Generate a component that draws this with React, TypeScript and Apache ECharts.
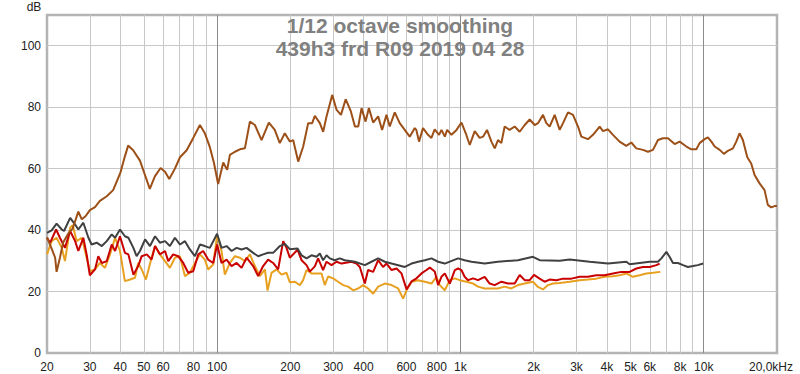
import React, { useEffect, useRef } from "react";
import * as echarts from "echarts";

const FONT = 'Arial, "Liberation Sans", sans-serif';

const titleLines = ["1/12 octave smoothing", "439h3 frd R09 2019 04 28"];
const yUnit = "dB";
const xLabelValues = [20, 30, 40, 50, 60, 80, 100, 200, 300, 400, 600, 800, 1000, 2000, 3000, 4000, 5000, 6000, 8000, 10000, 20000];
const minorGridFreqs = [30, 40, 50, 60, 70, 80, 90, 200, 300, 400, 500, 600, 700, 800, 900, 2000, 3000, 4000, 5000, 6000, 7000, 8000, 9000];

const brownFreq = [20, 20.9, 21.6, 21.9, 22.6, 23.3, 24.5, 25.5, 26.9, 27.8, 28.8, 30, 31.5, 33, 35.2, 37.4, 40.1, 41.8, 43.1, 45.2, 48.2, 50.5, 52.9, 55.5, 58.6, 61.1, 63.6, 67.1, 70.4, 75, 79.8, 85, 89.1, 93.4, 97, 101, 106, 110, 112.9, 118.4, 124.1, 130.1, 136.4, 143, 152.3, 163.2, 172.6, 181, 189.8, 199, 205.4, 215.5, 225.9, 236.8, 245.9, 252.2, 264.4, 272.9, 281.7, 297.2, 309.9, 323, 337.6, 354.7, 368.5, 380.3, 392.4, 407.6, 420.6, 437.8, 459.1, 476.6, 496.8, 512.3, 537.2, 563.2, 590.5, 619.1, 649.1, 659, 676, 702, 736, 760, 784, 817, 836, 863, 882, 919, 964, 1010, 1052, 1092, 1145, 1200, 1239, 1286, 1341, 1384, 1427, 1473, 1520, 1593, 1671, 1752, 1837, 1926, 2019, 2083, 2185, 2255, 2327, 2440, 2558, 2640, 2768, 2902, 3043, 3140, 3344, 3506, 3735, 3855, 4041, 4237, 4510, 4805, 5038, 5282, 5627, 5900, 6186, 6485, 6800, 7129, 7595, 7963, 8483, 8894, 9325, 9616, 10083, 10400, 10750, 11090, 11630, 12100, 12570, 13180, 13600, 14030, 14480, 15100, 15670, 16180, 16960, 17780, 18340, 18930, 19540, 20000];
const brownDb = [37.6, 34, 31, 26.4, 31, 36, 39, 40.5, 46, 43.5, 44.5, 46.5, 47.5, 49.5, 51, 53, 58.8, 64, 67.5, 66, 62.6, 58, 53.4, 57.5, 60.2, 59, 56.6, 60, 63.7, 66, 70, 74.2, 71.5, 67, 62, 55, 62, 59.6, 64.5, 65.5, 66.3, 66.6, 75.3, 74.2, 69.3, 75, 72.6, 68.3, 71.5, 68.8, 69.3, 62.3, 67.2, 74.8, 74.8, 77.2, 74.8, 72, 77, 84, 79.1, 77.5, 82.6, 78.6, 73.7, 73.7, 79.7, 75.3, 79.7, 75, 77, 72.6, 77.5, 73.7, 78.3, 74.8, 72.6, 70.4, 73.2, 72.6, 68.8, 73.2, 71, 70, 72.8, 71, 72.6, 70.4, 72.6, 71, 72.6, 75, 71.5, 67.7, 72.2, 70, 70.4, 72.6, 68.8, 66.6, 69.3, 68.3, 73.7, 72.6, 73.7, 72, 74.2, 76, 74.2, 74.8, 77.5, 74.8, 73.7, 77.5, 72.6, 74.8, 78.3, 77.5, 73.7, 70.4, 69.6, 71, 73.7, 72.2, 72.8, 71, 68.8, 67.4, 68.5, 66.6, 66.1, 65.5, 66.1, 69.3, 69.9, 69.9, 68, 68.8, 67.2, 66.3, 66.3, 68.3, 69.6, 70.2, 68.8, 67.2, 66.1, 64.8, 65.8, 66.6, 68.8, 71.5, 69.3, 63.7, 61.7, 57.9, 55.2, 53, 48.2, 47.4, 47.8, 47.8];

const grayFreq = [20, 20.9, 21.9, 23, 23.5, 24.9, 26.1, 26.9, 28.2, 29.6, 30.5, 32, 33.6, 35.2, 36.9, 38.1, 39.9, 41.8, 43.2, 45.3, 46.7, 48.2, 50.6, 53, 55.6, 58.2, 61.1, 64, 67.1, 70.4, 73.8, 77.3, 81.1, 85, 89.1, 93.4, 100, 104.3, 109.4, 114.7, 120.3, 126.1, 132.2, 140.7, 147.5, 154.6, 162.1, 170, 181.1, 189.9, 199.1, 214.1, 222.4, 233.1, 244.4, 256.2, 264.4, 272.7, 281.6, 290.6, 304.7, 319.4, 335, 368.3, 404.8, 430.9, 459.2, 489.2, 521.2, 591, 629.6, 670.2, 713.9, 760.6, 809.6, 862.6, 977.9, 1041, 1110, 1258, 1425, 1724, 1987, 2116, 2558, 2812, 3398, 4041, 4807, 4959, 5996, 6479, 6697, 7022, 7236, 7472, 7829, 8217, 8605, 9038, 9456, 9940];
const grayDb = [39.1, 39.9, 42.1, 40.2, 39.7, 44, 41.8, 40.2, 42.4, 37.5, 35.3, 35.9, 34.8, 36.4, 38.6, 37.5, 40.2, 38, 37.5, 34.2, 31.5, 33.2, 37, 34.8, 38, 35.9, 36.4, 34.8, 37.5, 35.3, 36.4, 33.7, 31.5, 35.3, 34.8, 34.2, 38.8, 34.2, 34.8, 33.2, 34.2, 33.7, 34.2, 32.6, 31.5, 32.1, 32.6, 32.6, 34.8, 35.5, 33.8, 34, 31.8, 30.8, 31.8, 31.3, 32.4, 30.2, 31.8, 30.8, 30.2, 30.8, 30.2, 29.7, 28.6, 29.7, 30.8, 29.7, 29.1, 28, 29.1, 29.7, 30.2, 30.8, 29.7, 29.1, 30.8, 30.2, 29.7, 29.1, 29.7, 30.2, 31.3, 30.2, 30, 30.4, 29.7, 29.1, 29.7, 28.9, 29.7, 29.7, 30.8, 32.9, 31.3, 29.3, 29.3, 28.6, 28, 28.3, 28.6, 29.1];

const redFreq = [20, 20.6, 21.8, 22.6, 23.7, 24.9, 26.1, 26.9, 28.2, 29.1, 30, 31.5, 32.5, 33.6, 35.2, 36.9, 38.1, 39.9, 41.8, 43.2, 45.3, 47.4, 49, 51.4, 53.8, 55.6, 58.2, 61.1, 63, 66, 69.2, 72.6, 76.1, 79.8, 83.7, 87.7, 91.9, 96.4, 100.1, 104.3, 109.4, 114.7, 120.3, 126.1, 132.2, 140.7, 147.5, 154.6, 162.1, 170, 178.2, 186.9, 192.9, 199.1, 214.1, 222.4, 233.1, 240.5, 252.2, 260.1, 272.7, 281.6, 295.3, 309.6, 324.7, 357, 374.1, 386.1, 404.8, 417.3, 438, 459.2, 481, 497.2, 521.2, 546.4, 572.5, 600.6, 629.6, 660.1, 691.7, 725.3, 748.5, 784.4, 809.6, 835.6, 862.6, 904.4, 948.2, 977.9, 1009.5, 1041, 1075, 1127, 1181, 1258, 1319, 1382, 1474, 1568, 1671, 1752, 1837, 1926, 2006, 2116, 2218, 2326, 2479, 2639, 2857, 3090, 3343, 3621, 3914, 4237, 4583, 4959, 5284, 5626, 5996, 6387, 6590];
const redDb = [37.5, 35.9, 40.2, 37.5, 34.2, 39.7, 36.4, 33.2, 37.5, 32.1, 25.3, 27.2, 31.5, 29.3, 29.9, 35.3, 33.2, 38, 32.6, 32.1, 25.5, 28.3, 31.5, 32.1, 30.4, 34.8, 32.1, 33.2, 29.9, 32.1, 31.5, 29.3, 26.1, 26.6, 32.1, 33.2, 30.4, 29.3, 35.3, 29.3, 30.4, 28.3, 29.3, 27.7, 31, 28.3, 25, 28.3, 30.4, 29.3, 27.2, 36.4, 34.2, 31, 33.6, 30.2, 28.6, 26.5, 28.2, 30.8, 27, 29.7, 28.6, 29.7, 29.1, 29.7, 29.1, 28, 22.6, 27, 26.4, 30.2, 28, 29.1, 27, 27.5, 25.9, 20.7, 23.3, 24.3, 25.9, 27, 27.8, 26.5, 22.1, 24.8, 25.9, 22.6, 27, 27.5, 27, 24.8, 23.7, 24.3, 23.7, 24.8, 22.6, 22.1, 23.2, 22.6, 22.6, 25.4, 23.7, 23.7, 25.4, 24.2, 23.2, 23.9, 23.7, 24.2, 24.2, 24.8, 24.8, 25.3, 25.3, 25.9, 26.4, 26.4, 27.5, 28, 28, 28.6, 29.1];

const orangeFreq = [20, 20.9, 21.9, 23, 23.7, 24.9, 25.5, 26.5, 27.8, 29.1, 30, 31.5, 33, 34.6, 36.3, 38.1, 39.9, 41.8, 43.9, 46, 47.4, 49, 51, 53.8, 55.6, 58.2, 61.1, 64, 67.1, 70.4, 73.8, 77.3, 81.1, 85, 89.1, 91.9, 96.4, 100.1, 104.3, 107.6, 112.9, 118.4, 124.1, 130.1, 136.4, 143, 149.9, 157.2, 161.2, 167.4, 175.6, 184, 192.9, 199.1, 208.7, 218.8, 225.8, 233.1, 244.4, 256.2, 268.6, 277.1, 285.9, 299.8, 314.3, 329.7, 345.5, 362.4, 379.8, 398.3, 417.3, 438, 459.2, 489.2, 521.2, 554.7, 581.6, 600.6, 629.6, 670.2, 713.9, 760.6, 796.9, 822.2, 862.6, 904.4, 948.2, 993.4, 1058, 1127, 1181, 1258, 1425, 1520, 1619, 1724, 1837, 1987, 2019, 2083, 2183, 2289, 2401, 2558, 2812, 3090, 3343, 3621, 3914, 4237, 4510, 4807, 5116, 5452, 5805, 6186, 6634];
const orangeDb = [32.1, 36.4, 37.5, 34.2, 29.9, 40.8, 41.6, 36.4, 37.5, 31, 26.6, 27.2, 29.3, 27.7, 32.1, 37.5, 33.2, 23.4, 23.9, 24.5, 29.3, 27.2, 23.9, 31, 34.8, 32.1, 29.9, 27.7, 31, 31.5, 25, 26.1, 29.3, 32.1, 30.4, 27.2, 28.8, 38.4, 33.2, 25.5, 29.3, 31.5, 31, 29.9, 32.1, 28.3, 25, 27.2, 20.3, 26.1, 27.2, 25.5, 26.1, 23, 23.2, 22.1, 23.7, 27, 25.9, 25.9, 25.9, 22.1, 24.9, 24.3, 23.2, 22.1, 21.6, 20.4, 21, 22.1, 21, 19.3, 21.6, 22.6, 22.1, 21, 17.7, 20.4, 23.2, 23.7, 23.2, 22.6, 24.8, 22.1, 20.4, 23.7, 24.3, 23.7, 23.2, 22.6, 21.6, 21, 21, 21.6, 21, 22.1, 22.6, 23.2, 22.6, 21.5, 20.7, 22.1, 22.6, 22.8, 23.2, 23.7, 23.9, 24.2, 24.8, 25, 25.3, 25.9, 24.8, 25.3, 25.9, 26.1, 26.4];

function zip(f: number[], d: number[]) {
  return f.map((x, i) => [x, d[i]]);
}

function fmtFreq(v: number) {
  const r = Math.round(v);
  if (r >= 20000) return "{end|20,0kHz}";
  if (r >= 1000) return r / 1000 + "k";
  return String(r);
}

function lineSeries(name: string, data: number[][], color: string, extra: any = {}) {
  return {
    name,
    type: "line",
    data,
    symbol: "none",
    showSymbol: false,
    silent: true,
    z: 3,
    lineStyle: { width: 2, color },
    itemStyle: { color },
    ...extra,
  };
}

export default function App() {
  const ref = useRef<HTMLDivElement>(null);
  useEffect(() => {
    document.body.style.margin = "0";
    const chart = echarts.init(ref.current!, null, { renderer: "svg" });
    chart.setOption({
      animation: false,
      backgroundColor: "#ffffff",
      textStyle: { fontFamily: FONT },
      grid: {
        left: 47,
        top: 15,
        right: 23,
        bottom: 21,
        show: true,
        borderColor: "#b4b4b4",
        borderWidth: 2.5,
        backgroundColor: "transparent",
      },
      xAxis: {
        type: "log",
        logBase: 10,
        min: 20,
        max: 20000,
        axisLine: { show: false },
        axisTick: { show: false },
        axisLabel: {
          customValues: xLabelValues,
          formatter: fmtFreq,
          color: "#222",
          fontSize: 12,
          fontFamily: FONT,
          margin: 8,
          hideOverlap: false,
          rich: {
            end: { fontSize: 12, fontFamily: FONT, color: "#222", padding: [0, 12, 0, 0] },
          },
        },
        splitLine: {
          show: true,
          showMinLine: false,
          showMaxLine: false,
          lineStyle: { color: "#8c8c8c", width: 1 },
        },
      },
      yAxis: {
        type: "value",
        min: 0,
        max: 110,
        interval: 20,
        axisLine: { show: false },
        axisTick: { show: false },
        axisLabel: { color: "#222", fontSize: 12, fontFamily: FONT, margin: 6, showMaxLabel: false },
        splitLine: {
          show: true,
          showMinLine: false,
          showMaxLine: false,
          lineStyle: { color: "#c8c8c8", width: 1 },
        },
      },
      graphic: [
        {
          type: "text",
          x: 34,
          y: 7,
          z: 10,
          style: { text: yUnit, fill: "#222", fontSize: 12, fontFamily: FONT, align: "center", verticalAlign: "middle" },
        },
        {
          type: "text",
          x: 400,
          y: 25,
          z: 10,
          style: { text: titleLines[0], fill: "#808080", fontSize: 21, fontWeight: "bold", fontFamily: FONT, align: "center", verticalAlign: "middle" },
        },
        {
          type: "text",
          x: 400,
          y: 48,
          z: 10,
          style: { text: titleLines[1], fill: "#808080", fontSize: 21, fontWeight: "bold", fontFamily: FONT, align: "center", verticalAlign: "middle" },
        },
      ],
      series: [
        lineSeries("orange", zip(orangeFreq, orangeDb), "#e8a020", {
          markLine: {
            silent: true,
            symbol: ["none", "none"],
            z: 1,
            label: { show: false },
            emphasis: { disabled: true },
            lineStyle: { color: "#c8c8c8", width: 1, type: "solid" },
            data: minorGridFreqs.map((f) => ({ xAxis: f })),
          },
        }),
        lineSeries("red", zip(redFreq, redDb), "#c80000"),
        lineSeries("gray", zip(grayFreq, grayDb), "#404040"),
        lineSeries("brown", zip(brownFreq, brownDb), "#9c5018"),
      ],
    });
    return () => chart.dispose();
  }, []);
  return <div ref={ref} style={{ width: 800, height: 374, background: "#fff" }} />;
}
